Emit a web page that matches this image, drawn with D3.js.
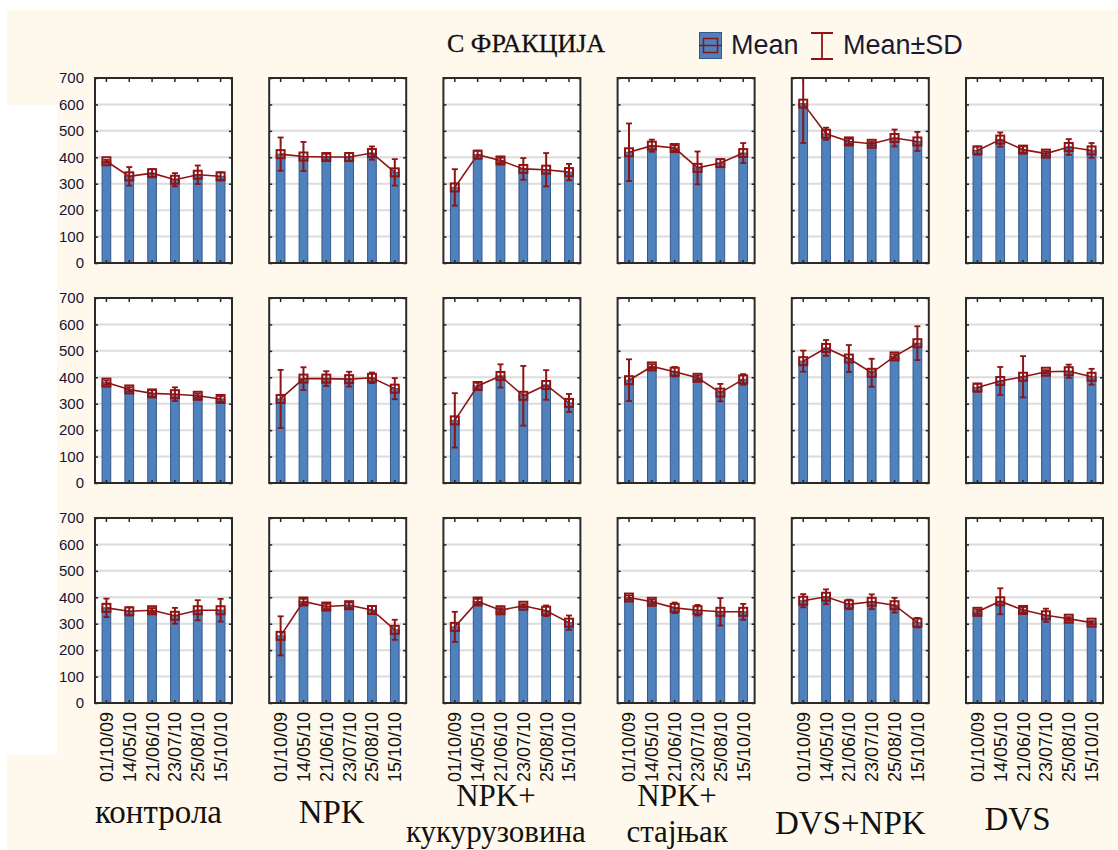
<!DOCTYPE html>
<html>
<head>
<meta charset="utf-8">
<script src="https://cdn.jsdelivr.net/npm/d3@7"></script>
<style>
  html, body { margin: 0; padding: 0; background: #fff; }
  svg { display: block; }
</style>
</head>
<body>
<script>
// categories
const dates = ["01/10/09", "14/05/10", "21/06/10", "23/07/10", "25/08/10", "15/10/10"];
const treatments = ["контрола", "NPK", "NPK+ кукурузовина", "NPK+ стајњак", "DVS+NPK", "DVS"];
const treatmentLines = [["контрола"], ["NPK"], ["NPK+", "кукурузовина"], ["NPK+", "стајњак"], ["DVS+NPK"], ["DVS"]];
const yTicks = [0, 100, 200, 300, 400, 500, 600, 700];

// means per row (one array per treatment, values per date)
const meansRow1 = [
  [385, 328, 340, 315, 334, 328],
  [412, 403, 401, 401, 416, 343],
  [286, 410, 388, 356, 353, 344],
  [419, 444, 435, 360, 378, 416],
  [603, 489, 460, 451, 473, 460],
  [426, 467, 429, 414, 439, 426]
];
const sdRow1 = [
  [5, 35, 15, 25, 35, 15],
  [63, 55, 12, 15, 25, 50],
  [69, 15, 10, 41, 63, 31],
  [109, 23, 10, 62, 15, 38],
  [149, 23, 10, 7, 32, 36],
  [15, 27, 12, 8, 30, 28]
];
const meansRow2 = [
  [380, 354, 339, 336, 330, 318],
  [318, 395, 395, 393, 398, 357],
  [237, 367, 405, 330, 371, 303],
  [389, 441, 421, 398, 342, 392],
  [461, 511, 471, 417, 479, 529],
  [361, 386, 402, 421, 423, 402]
];
const sdRow2 = [
  [8, 8, 12, 26, 8, 10],
  [110, 43, 28, 28, 20, 40],
  [103, 12, 44, 113, 56, 34],
  [79, 8, 18, 8, 33, 20],
  [40, 30, 51, 53, 8, 64],
  [15, 53, 78, 6, 25, 30]
];
const meansRow3 = [
  [360, 347, 351, 330, 351, 351],
  [254, 384, 365, 370, 352, 277],
  [288, 384, 351, 368, 349, 304],
  [399, 383, 360, 351, 345, 345],
  [387, 402, 373, 383, 370, 304],
  [345, 385, 352, 332, 319, 304]
];
const sdRow3 = [
  [35, 15, 8, 30, 38, 43],
  [74, 10, 10, 10, 15, 38],
  [57, 10, 8, 6, 20, 27],
  [8, 8, 20, 20, 52, 30],
  [25, 28, 18, 28, 28, 18],
  [8, 49, 10, 25, 6, 6]
];

const rows = [
  {means: meansRow1, sd: sdRow1},
  {means: meansRow2, sd: sdRow2},
  {means: meansRow3, sd: sdRow3}
];

const W = 1118, H = 850;
const cream = "#fff9ed", barFill = "#4f81bd", barStroke = "#34598a", red = "#8e1414";
const sans = "'Liberation Sans', Arial, sans-serif";
const serif = "'Liberation Serif', 'Times New Roman', serif";

const svg = d3.select("body").append("svg").attr("width", W).attr("height", H);

// pasted-together background
svg.append("rect").attr("width", W).attr("height", H).attr("fill", "#fff");
svg.append("rect").attr("x", 7).attr("y", 10).attr("width", W - 7).attr("height", 95).attr("fill", cream);
svg.append("rect").attr("x", 57).attr("y", 105).attr("width", W - 57).attr("height", 650).attr("fill", cream);
svg.append("rect").attr("x", 7).attr("y", 755).attr("width", W - 7).attr("height", 95).attr("fill", cream);

// title + legend
svg.append("text").attr("x", 447).attr("y", 52)
  .attr("font-family", serif).attr("font-size", 26).attr("fill", "#111")
  .attr("stroke", "#111").attr("stroke-width", 0.3)
  .text("С ФРАКЦИЈА");

const lg = svg.append("g");
lg.append("rect").attr("x", 699.5).attr("y", 32.5).attr("width", 22).attr("height", 26)
  .attr("fill", barFill).attr("stroke", barStroke);
lg.append("line").attr("x1", 699).attr("x2", 722).attr("y1", 45.5).attr("y2", 45.5)
  .attr("stroke", red).attr("stroke-width", 1.5);
lg.append("rect").attr("x", 703.5).attr("y", 38.5).attr("width", 14).attr("height", 14)
  .attr("fill", "none").attr("stroke", red).attr("stroke-width", 1.5);
lg.append("text").attr("x", 731).attr("y", 54).attr("font-family", sans).attr("font-size", 27)
  .attr("fill", "#1a1a33").text("Mean");
lg.append("path").attr("d", "M811,33H833M822,33V59M811,59H833")
  .attr("fill", "none").attr("stroke", red).attr("stroke-width", 1.8);
lg.append("text").attr("x", 843).attr("y", 54).attr("font-family", sans).attr("font-size", 27)
  .attr("fill", "#1a1a33").text("Mean±SD");

// panel grid
const colX = d3.scaleBand().domain(treatments).range([95, 1103]).paddingInner(0.2135);
const rowY = d3.scaleBand().domain([0, 1, 2]).range([78, 703]).paddingInner(0.159);
const pw = colX.bandwidth(), ph = rowY.bandwidth();

const x = d3.scaleBand().domain(dates).range([0, pw]).paddingInner(0.62).paddingOuter(0.31);
const y = d3.scaleLinear().domain([0, 700]).range([ph, 0]).clamp(true);
const cx = d => x(d) + x.bandwidth() / 2;

rows.forEach((row, r) => {
  treatments.forEach((t, c) => {
    const pts = dates.map((d, i) => ({date: d, mean: row.means[c][i], sd: row.sd[c][i]}));
    const g = svg.append("g").attr("transform", `translate(${colX(t)},${rowY(r)})`);

    g.append("rect").attr("width", pw).attr("height", ph).attr("fill", "#fff");

    g.selectAll("line.grid").data(yTicks.slice(1, -1)).join("line")
      .attr("class", "grid")
      .attr("x1", 0).attr("x2", pw).attr("y1", d => y(d)).attr("y2", d => y(d))
      .attr("stroke", "#dcdcdc").attr("stroke-width", 2);

    g.selectAll("rect.bar").data(pts).join("rect")
      .attr("class", "bar")
      .attr("x", d => x(d.date)).attr("width", x.bandwidth())
      .attr("y", d => y(d.mean)).attr("height", d => y(0) - y(d.mean))
      .attr("fill", barFill).attr("stroke", barStroke).attr("stroke-width", 1);

    // inner ticks on all four sides
    const tickStyle = sel => {
      sel.select(".domain").remove();
      sel.selectAll("text").remove();
      sel.selectAll("line").attr("stroke", "#222").attr("stroke-width", 1.5);
    };
    g.append("g").call(d3.axisTop(x).tickSize(-4)).call(tickStyle);
    g.append("g").attr("transform", `translate(0,${ph})`).call(d3.axisBottom(x).tickSize(-3)).call(tickStyle);
    g.append("g").call(d3.axisLeft(y).tickValues(yTicks).tickSize(-3)).call(tickStyle);
    g.append("g").attr("transform", `translate(${pw},0)`).call(d3.axisRight(y).tickValues(yTicks).tickSize(-3)).call(tickStyle);

    // error bars
    const eb = g.selectAll("g.err").data(pts).join("g").attr("class", "err");
    eb.append("line")
      .attr("x1", d => cx(d.date)).attr("x2", d => cx(d.date))
      .attr("y1", d => y(d.mean + d.sd)).attr("y2", d => y(d.mean - d.sd))
      .attr("stroke", red).attr("stroke-width", 2);
    eb.filter(d => d.mean + d.sd <= 700).append("line")
      .attr("x1", d => cx(d.date) - 3).attr("x2", d => cx(d.date) + 3)
      .attr("y1", d => y(d.mean + d.sd)).attr("y2", d => y(d.mean + d.sd))
      .attr("stroke", red).attr("stroke-width", 1.8);
    eb.append("line")
      .attr("x1", d => cx(d.date) - 3).attr("x2", d => cx(d.date) + 3)
      .attr("y1", d => y(d.mean - d.sd)).attr("y2", d => y(d.mean - d.sd))
      .attr("stroke", red).attr("stroke-width", 1.8);

    // mean line + markers
    g.append("path").datum(pts)
      .attr("d", d3.line().x(d => cx(d.date)).y(d => y(d.mean)))
      .attr("fill", "none").attr("stroke", red).attr("stroke-width", 1.6);
    g.selectAll("rect.mk").data(pts).join("rect")
      .attr("class", "mk")
      .attr("x", d => cx(d.date) - 4).attr("y", d => y(d.mean) - 4)
      .attr("width", 8).attr("height", 8)
      .attr("fill", "none").attr("stroke", red).attr("stroke-width", 2);

    g.append("rect").attr("width", pw).attr("height", ph)
      .attr("fill", "none").attr("stroke", "#2a2a2a").attr("stroke-width", 2);

    // y labels on the first column
    if (c === 0) {
      const ya = g.append("g").call(d3.axisLeft(y).tickValues(yTicks).tickSize(0).tickPadding(11));
      ya.select(".domain").remove();
      ya.selectAll("text").attr("font-family", sans).attr("font-size", 15).attr("fill", "#14143a");
    }
    // date labels on the last row
    if (r === 2) {
      const xa = g.append("g").attr("transform", `translate(0,${ph})`).call(d3.axisBottom(x).tickSize(0));
      xa.select(".domain").remove();
      xa.selectAll("text")
        .attr("font-family", sans).attr("font-size", 18).attr("fill", "#111")
        .attr("transform", "rotate(-90)")
        .attr("text-anchor", "end")
        .attr("x", -9).attr("y", 0).attr("dy", "0.36em");
    }
  });
});

// treatment names under the panels
const labelShift = [-5, -6, -16, -9, -10, -17];
const labelBase = [[823], [823], [806, 842], [806, 842], [834], [830]];
treatments.forEach((t, c) => {
  const xc = colX(t) + pw / 2 + labelShift[c];
  const two = treatmentLines[c].length > 1;
  treatmentLines[c].forEach((line, k) => {
    svg.append("text").attr("x", xc).attr("y", labelBase[c][k])
      .attr("text-anchor", "middle")
      .attr("font-family", serif).attr("font-size", two ? 31 : 33).attr("fill", "#111")
      .text(line);
  });
});
</script>
</body>
</html>
